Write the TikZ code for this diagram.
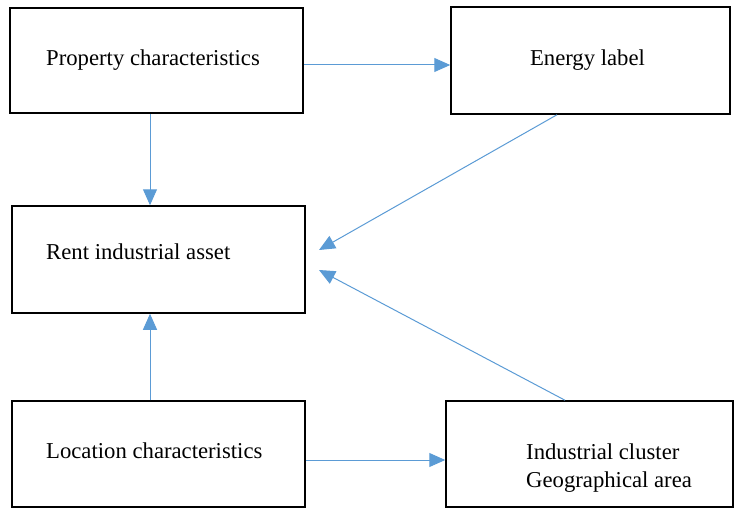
\documentclass[tikz,border=0pt]{standalone}
\usepackage{fontspec}
\setmainfont{Liberation Serif}
\usepackage{tikz}
\usetikzlibrary{arrows.meta,positioning}
\definecolor{linkblue}{HTML}{5B9BD5}
\tikzset{
  model-box/.style={draw=black, fill=white, line width=1.5pt, inner sep=0pt},
  model-text/.style={font=\fontsize{22.7pt}{28pt}\selectfont, inner sep=0pt, align=left},
  model-link/.style={draw=linkblue, line width=1pt, -{Triangle[length=16pt, width=14pt]}}
}

\begin{document}
\begin{tikzpicture}[x=1pt, y=-1pt]
  \useasboundingbox (0,0) rectangle (735,508);

  % Boxes
  \node[model-box, minimum width=293pt, minimum height=105pt] (prop) at (156.5,60.5) {};
  \node[model-box, minimum width=279pt, minimum height=107pt] (energy) at (590.5,60.5) {};
  \node[model-box, minimum width=293pt, minimum height=107pt] (rent) at (158.5,259.5) {};
  \node[model-box, minimum width=293pt, minimum height=106pt] (loc) at (158.5,454) {};
  \node[model-box, minimum width=287pt, minimum height=106pt] (cluster) at (589.5,454) {};

  % Box texts
  \node[model-text, anchor=base west] (proptext) at (46,66) {Property characteristics};
  \node[model-text, anchor=base] (energytext) at (587.5,66) {Energy label};
  \node[model-text, anchor=base west] (renttext) at (46,259) {Rent industrial asset};
  \node[model-text, anchor=base west] (loctext) at (46,458) {Location characteristics};
  \node[model-text, anchor=base west] (clustertext) at (526,487) {Industrial cluster\\ Geographical area};

  % Free arrow ends beside the rent box
  \coordinate (rentin1) at (319,250);
  \coordinate (rentin2) at (319,270);

  % Links
  \draw[model-link] ([yshift=-4.5pt]prop.east) -- ([yshift=-4.5pt]energy.west);
  \draw[model-link] ([xshift=-6.5pt]prop.south) -- ([xshift=-6.5pt]prop.south |- rent.north);
  \draw[model-link] ([xshift=-33.5pt]energy.south) -- (rentin1);
  \draw[model-link] ([xshift=-24.5pt]cluster.north) -- (rentin2);
  \draw[model-link] ([xshift=-8.5pt]loc.north) -- ([xshift=-8.5pt]loc.north |- rent.south);
  \draw[model-link] ([yshift=-6pt]loc.east) -- ([yshift=-6pt]loc.east -| cluster.west);
\end{tikzpicture}
\end{document}
